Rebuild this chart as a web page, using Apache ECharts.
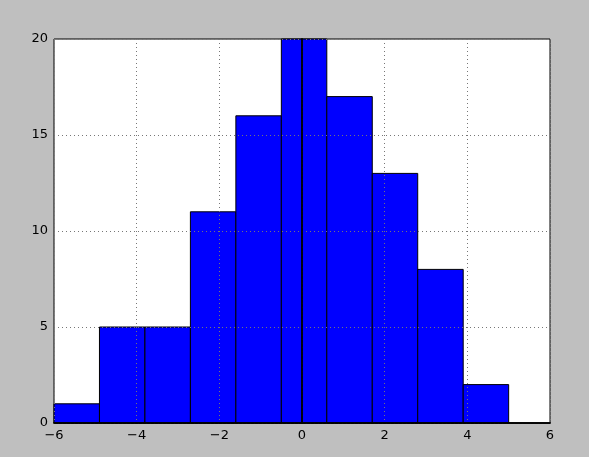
<!DOCTYPE html>
<html><head><meta charset="utf-8">
<script src="https://cdn.jsdelivr.net/npm/echarts@6/dist/echarts.min.js"></script>
<style>html,body{margin:0;padding:0;background:#bfbfbf;}#c{width:589px;height:457px;}</style>
</head><body><div id="c"></div>
<script>
var binEdges = [-6, -4.9, -3.8, -2.7, -1.6, -0.5, 0.6, 1.7, 2.8, 3.9, 5.0];
var counts = [1, 5, 5, 11, 16, 20, 17, 13, 8, 2];
var xTicks = [-6, -4, -2, 0, 2, 4, 6];
var yTicks = [0, 5, 10, 15, 20];

var data = counts.map(function (c, i) { return [binEdges[i], binEdges[i + 1], c]; });
function fmt(v) { return String(v).replace('-', '\u2212'); }
var font = 'DejaVu Sans';
var chart = echarts.init(document.getElementById('c'), null, { renderer: 'canvas' });
var tickStyle = { show: false };
var splitStyle = { show: true, lineStyle: { color: '#777', width: 1, type: [1, 3] } };
var lineStyle = { show: true, lineStyle: { color: '#000', width: 1.5 } };
chart.setOption({
  backgroundColor: '#bfbfbf',
  animation: false,
  grid: { left: 54, right: 39, top: 39, bottom: 34, show: true, backgroundColor: '#fff', borderColor: '#000', borderWidth: 1 },
  xAxis: [
    { type: 'value', min: xTicks[0], max: xTicks[xTicks.length - 1], interval: 2, z: 10,
      axisLine: lineStyle, axisTick: tickStyle, splitLine: splitStyle,
      axisLabel: { color: '#000', fontFamily: font, fontSize: 13, margin: 6, formatter: fmt } },
    { type: 'value', position: 'top', min: xTicks[0], max: xTicks[xTicks.length - 1], interval: 2, z: 10,
      axisLine: lineStyle, axisTick: tickStyle, splitLine: { show: false }, axisLabel: { show: false } }
  ],
  yAxis: [
    { type: 'value', min: yTicks[0], max: yTicks[yTicks.length - 1], interval: 5, z: 10,
      axisLine: lineStyle, axisTick: tickStyle, splitLine: splitStyle,
      axisLabel: { color: '#000', fontFamily: font, fontSize: 13, margin: 6, formatter: fmt } },
    { type: 'value', position: 'right', min: yTicks[0], max: yTicks[yTicks.length - 1], interval: 5, z: 10,
      axisLine: lineStyle, axisTick: tickStyle, splitLine: { show: false }, axisLabel: { show: false } }
  ],
  series: [{
    type: 'custom',
    xAxisIndex: 0, yAxisIndex: 0,
    data: data,
    renderItem: function (params, api) {
      var p0 = api.coord([api.value(0), 0]);
      var p1 = api.coord([api.value(1), api.value(2)]);
      return {
        type: 'rect',
        shape: { x: p0[0], y: p1[1], width: p1[0] - p0[0], height: p0[1] - p1[1] },
        style: { fill: '#0000ff', stroke: '#000', lineWidth: 1 }
      };
    }
  }]
});
</script></body></html>
